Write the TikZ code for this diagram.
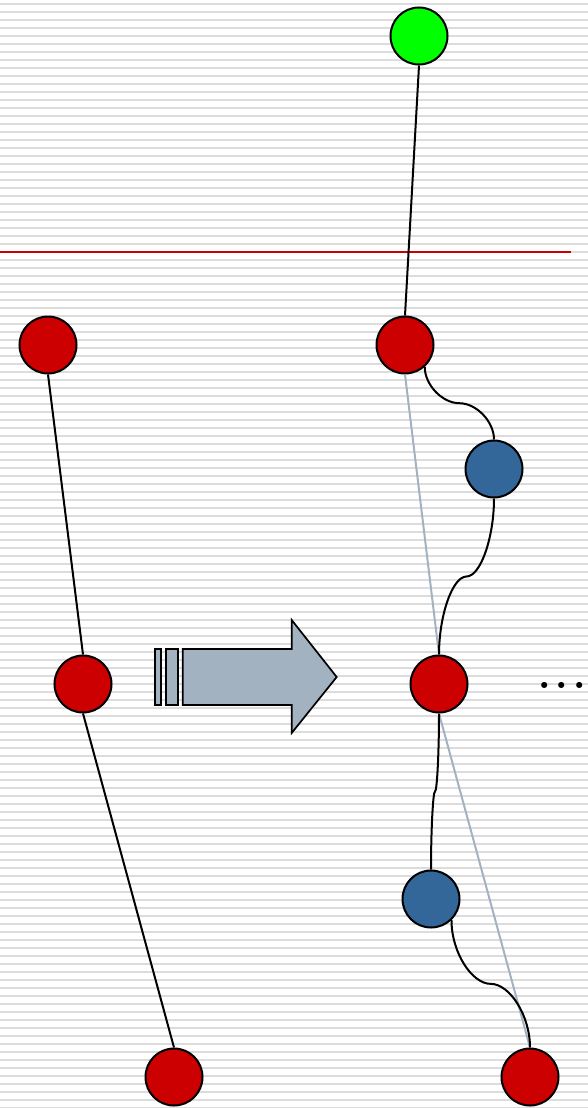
\documentclass[tikz,border=0pt]{standalone}
\usepackage{tikz}
\usetikzlibrary{positioning, calc}

\definecolor{nodered}{RGB}{204,0,0}
\definecolor{nodeblue}{RGB}{51,102,153}
\definecolor{nodegreen}{RGB}{0,255,0}
\definecolor{stripe}{RGB}{220,220,220}
\definecolor{slate}{RGB}{163,178,193}

\begin{document}
\begin{tikzpicture}[x=1pt, y=-1pt, on grid, line width=2pt,
  dot/.style={circle, draw, minimum size=57pt, inner sep=0pt},
  rednode/.style={dot, fill=nodered},
  bluenode/.style={dot, fill=nodeblue},
  greennode/.style={dot, fill=nodegreen}]
            \useasboundingbox (0,0) rectangle (588,1108);
            \foreach \k in {0,...,138}
                \fill[stripe] (0,{3+8*\k}) rectangle (588,{5+8*\k});

            \draw[nodered, line width=2.5pt] (0,252) -- (571,252);

            % left chain
            \node[rednode] (A) at (48,345) {};
            \node[rednode] (B) at (83,684) {};
            \node[rednode] (C) at (174,1077) {};

            % right chain
            \node[greennode] (G) at (419,36) {};
            \node[rednode, right=357pt of A] (A2) {};
            \node[rednode, right=356pt of B] (B2) {};
            \node[rednode, right=356pt of C] (C2) {};
            \node[bluenode] (X) at (494,469) {};
            \node[bluenode] (Y) at (431,899) {};

            \node[inner sep=0pt] (more) at (562,685)
                {\scalebox{3.9}{\bfseries .\kern0.13em.\kern0.13em.}};

            \path (A.south) edge (B.north)
                  (B.south) edge (C.north)
                  (G.south) edge (A2.north);
            \path[slate] (A2.south) edge (B2.north)
                  (B2.south) edge (C2.north);

            % curved links through the blue nodes
            \coordinate (m1) at ($(A2.-48)!.5!(X.north)$);
            \coordinate (m2) at ($(X.south)!.5!(B2.north)$);
            \coordinate (m3) at ($(B2.south)!.5!(Y.north)$);
            \coordinate (m4) at ($(Y.-46)!.5!(C2.north)$);
            \draw (A2.-48) .. controls +(0,18) and +(-17,0) .. (m1)
                  .. controls +(17,0) and +(0,-18) .. (X.north);
            \draw (X.south) .. controls +(0,39) and +(14,0) .. (m2)
                  .. controls +(-14,0) and +(0,-39) .. (B2.north);
            \draw (B2.south) .. controls +(0,39) and +(2,0) .. (m3)
                  .. controls +(-2,0) and +(0,-39) .. (Y.north);
            \draw (Y.-46) .. controls +(0,32) and +(-19,0) .. (m4)
                  .. controls +(19,0) and +(0,-32) .. (C2.north);

            % block arrow
            \filldraw[fill=slate, line width=1.7pt] (155,649) rectangle (160.7,705);
            \filldraw[fill=slate, line width=1.7pt] (166,649) rectangle (177.7,705);
            \filldraw[fill=slate, line width=1.7pt] (182.7,649) -- (291.7,649) -- (291.7,620)
                -- (336.7,677) -- (291.7,733) -- (291.7,705) -- (182.7,705) -- cycle;
        \end{tikzpicture}
\end{document}
